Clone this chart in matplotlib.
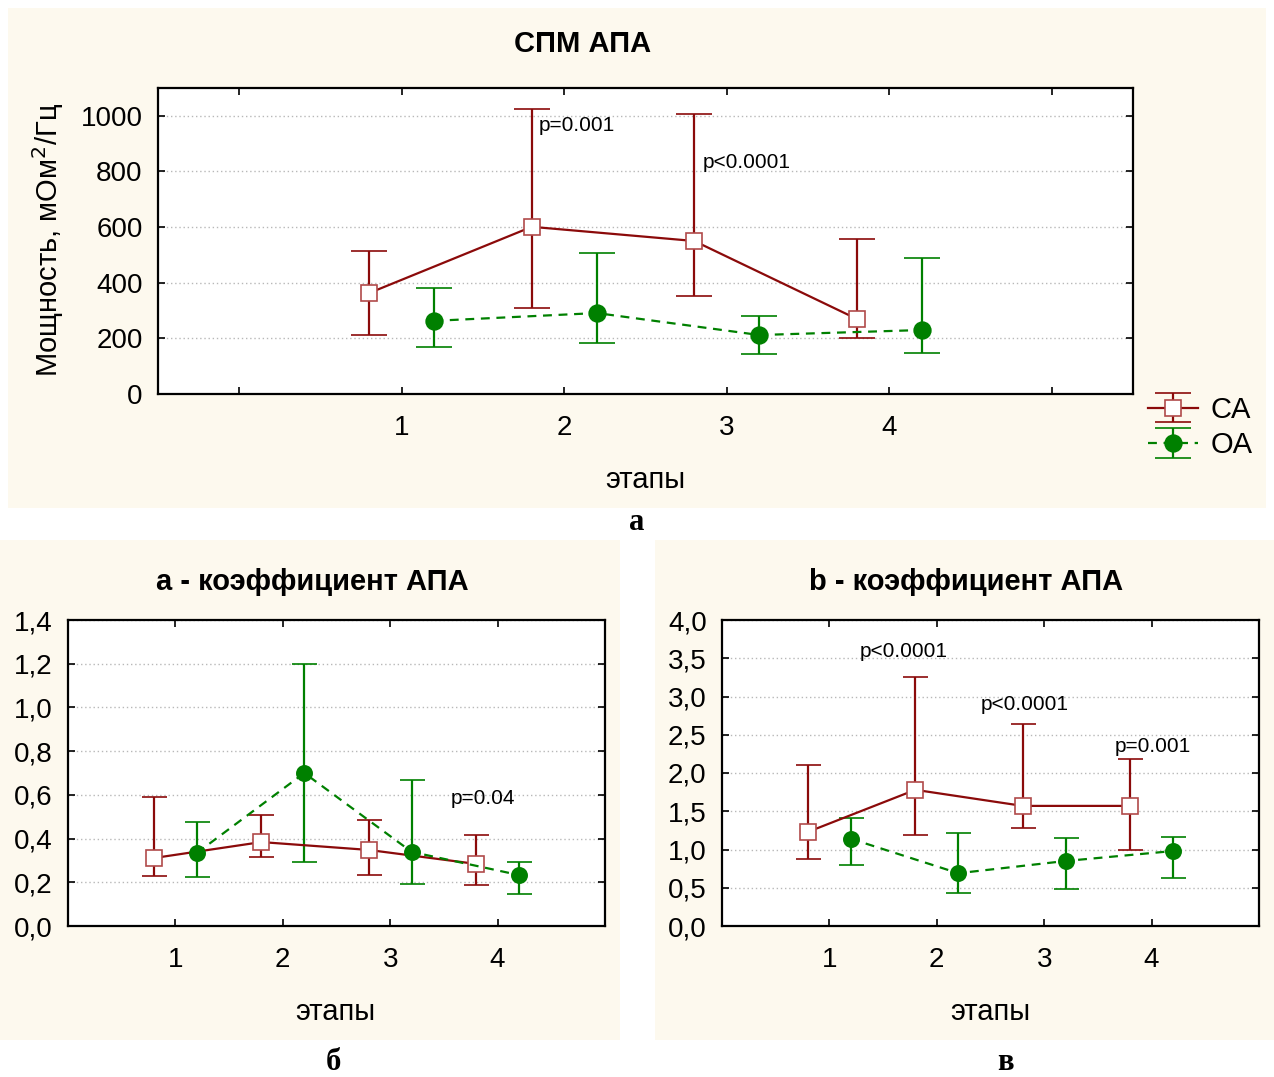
import matplotlib
matplotlib.use("Agg")
import matplotlib.pyplot as plt
from matplotlib.patches import Rectangle
from matplotlib.ticker import FuncFormatter

plt.rcParams["font.family"] = ["Liberation Sans", "DejaVu Sans"]

W, H = 1274, 1077

# stages
stages = [1, 2, 3, 4]

# --- СПМ АПА (top) ---
spm_ca = [363, 601, 550, 270]
spm_ca_lo = [212, 309, 352, 201]
spm_ca_hi = [514, 1025, 1007, 558]
spm_oa = [263, 291, 212, 230]
spm_oa_lo = [169, 183, 144, 147]
spm_oa_hi = [381, 507, 281, 489]

# --- a - коэффициент АПА (bottom left) ---
a_ca = [0.311, 0.384, 0.348, 0.284]
a_ca_lo = [0.229, 0.316, 0.233, 0.188]
a_ca_hi = [0.590, 0.508, 0.485, 0.416]
a_oa = [0.334, 0.700, 0.339, 0.233]
a_oa_lo = [0.224, 0.293, 0.192, 0.146]
a_oa_hi = [0.476, 1.199, 0.668, 0.293]

# --- b - коэффициент АПА (bottom right) ---
b_ca = [1.23, 1.78, 1.57, 1.57]
b_ca_lo = [0.876, 1.19, 1.28, 1.00]
b_ca_hi = [2.10, 3.25, 2.64, 2.18]
b_oa = [1.14, 0.69, 0.85, 0.98]
b_oa_lo = [0.80, 0.43, 0.48, 0.63]
b_oa_hi = [1.41, 1.21, 1.15, 1.16]

RED = "#8B0A0A"
RED_EDGE = "#B04A4A"
GREEN = "#008000"
BG = "#FDF9EE"

TICK_FS = 20
LABEL_FS = 21
NOTE_FS = 15


def px_rect(x0, y0, x1, y1):
    return [x0 / W, 1 - y1 / H, (x1 - x0) / W, (y1 - y0) / H]


def draw_series(ax, x, y, lo, hi, color, marker, mfc, mec, ls, capsize, ms):
    yerr = [[m - l for m, l in zip(y, lo)], [h - m for m, h in zip(y, hi)]]
    return ax.errorbar(x, y, yerr=yerr, color=color, ecolor=color, elinewidth=1.6,
                       capsize=capsize, capthick=1.6, lw=1.6, ls=ls,
                       marker=marker, ms=ms, mfc=mfc, mec=mec, mew=1.2, zorder=3)


def style_axes(ax, xlim, ylim, yticks, fmt):
    ax.set_xlim(*xlim)
    ax.set_ylim(*ylim)
    ax.set_yticks(yticks)
    ax.yaxis.set_major_formatter(FuncFormatter(fmt))
    ax.set_xticks(range(0, 6))
    ax.set_xticklabels(["", "1", "2", "3", "4", ""])
    ax.tick_params(direction="in", top=True, right=True, length=5, width=1.2,
                   labelsize=TICK_FS, colors="black")
    ax.tick_params(axis="x", pad=15)
    ax.tick_params(axis="y", pad=11)
    ax.yaxis.grid(True, ls=(0, (1, 2)), color="#B8B8B8", lw=1)
    ax.set_axisbelow(True)
    for s in ax.spines.values():
        s.set_linewidth(1.6)
        s.set_color("black")


fig = plt.figure(figsize=(W / 100, H / 100), dpi=100)
fig.patch.set_facecolor("white")

for r in [(8, 8, 1266, 508), (0, 540, 620, 1040), (655, 540, 1274, 1040)]:
    x0, y0, w, h = px_rect(*r)
    fig.patches.append(Rectangle((x0, y0), w, h, transform=fig.transFigure,
                                 facecolor=BG, edgecolor="none", zorder=-10))

ca_x = [s - 0.2 for s in stages]
oa_x = [s + 0.2 for s in stages]

# top panel
ax1 = fig.add_axes(px_rect(158, 88, 1133, 394))
h_ca = draw_series(ax1, ca_x, spm_ca, spm_ca_lo, spm_ca_hi, RED, "s", "white", RED_EDGE, "-", 13, 12)
h_oa = draw_series(ax1, oa_x, spm_oa, spm_oa_lo, spm_oa_hi, GREEN, "o", GREEN, GREEN, (0, (4, 3)), 13, 12)
style_axes(ax1, (-0.5, 5.5), (0, 1100), range(0, 1001, 200), lambda v, _: f"{v:.0f}")
ax1.text(1.84, 964, "p=0.001", fontsize=NOTE_FS, ha="left", va="center")
ax1.text(2.85, 831, "p<0.0001", fontsize=NOTE_FS, ha="left", va="center")

fig.text(583 / W, 1 - 44 / H, "СПМ АПА", fontsize=LABEL_FS, fontweight="bold", ha="center", va="center")
fig.text(645 / W, 1 - 480 / H, "этапы", fontsize=LABEL_FS, ha="center", va="center")
fig.text(48 / W, 1 - 240 / H, "Мощность, мОм$^2$/Гц", fontsize=LABEL_FS, rotation=90,
         ha="center", va="center")
fig.legend([h_ca, h_oa], ["CA", "OA"], loc="upper left",
           bbox_to_anchor=(1148 / W, 1 - 396 / H), frameon=False, fontsize=LABEL_FS,
           handlelength=1.7, handletextpad=0.45, labelspacing=0.25,
           borderpad=0, borderaxespad=0)
fig.text(637 / W, 1 - 522 / H, "а", fontsize=22, fontweight="bold", family="Liberation Serif",
         ha="center", va="center")

# bottom left
ax2 = fig.add_axes(px_rect(68, 620, 605, 926))
draw_series(ax2, ca_x, a_ca, a_ca_lo, a_ca_hi, RED, "s", "white", RED_EDGE, "-", 9, 11)
draw_series(ax2, oa_x, a_oa, a_oa_lo, a_oa_hi, GREEN, "o", GREEN, GREEN, (0, (4, 3)), 9, 11)
style_axes(ax2, (0, 5), (0, 1.4), [i * 0.2 for i in range(8)],
           lambda v, _: f"{v:.1f}".replace(".", ","))
ax2.text(3.86, 0.585, "p=0.04", fontsize=NOTE_FS, ha="center", va="center")
fig.text(312 / W, 1 - 582 / H, "а - коэффициент АПА", fontsize=LABEL_FS, fontweight="bold",
         ha="center", va="center")
fig.text(335 / W, 1 - 1012 / H, "этапы", fontsize=LABEL_FS, ha="center", va="center")
fig.text(333 / W, 1 - 1062 / H, "б", fontsize=22, fontweight="bold", family="Liberation Serif",
         ha="center", va="center")

# bottom right
ax3 = fig.add_axes(px_rect(722, 620, 1259, 926))
draw_series(ax3, ca_x, b_ca, b_ca_lo, b_ca_hi, RED, "s", "white", RED_EDGE, "-", 9, 11)
draw_series(ax3, oa_x, b_oa, b_oa_lo, b_oa_hi, GREEN, "o", GREEN, GREEN, (0, (4, 3)), 9, 11)
style_axes(ax3, (0, 5), (0, 4.0), [i * 0.5 for i in range(9)],
           lambda v, _: f"{v:.1f}".replace(".", ","))
ax3.text(1.69, 3.59, "p<0.0001", fontsize=NOTE_FS, ha="center", va="center")
ax3.text(2.82, 2.90, "p<0.0001", fontsize=NOTE_FS, ha="center", va="center")
ax3.text(4.01, 2.35, "p=0.001", fontsize=NOTE_FS, ha="center", va="center")
fig.text(966 / W, 1 - 582 / H, "b - коэффициент АПА", fontsize=LABEL_FS, fontweight="bold",
         ha="center", va="center")
fig.text(990 / W, 1 - 1012 / H, "этапы", fontsize=LABEL_FS, ha="center", va="center")
fig.text(1005 / W, 1 - 1062 / H, "в", fontsize=22, fontweight="bold", family="Liberation Serif",
         ha="center", va="center")

fig.savefig("out.png", dpi=100, facecolor="white")
